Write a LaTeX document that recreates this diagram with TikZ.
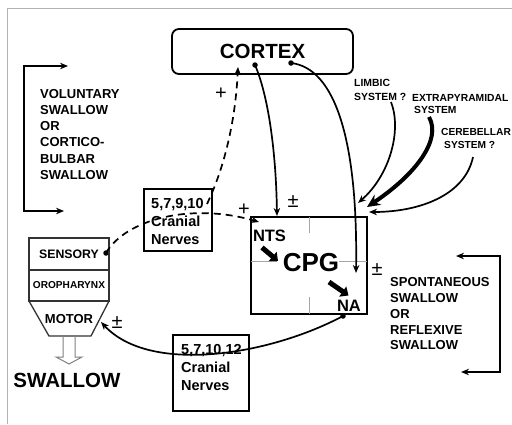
\documentclass[tikz,border=0pt]{standalone}
\usepackage{fontspec}
\setmainfont{Liberation Sans}
\usetikzlibrary{arrows.meta}
\tikzset{
  boxed/.style={draw, line width=1.8pt},
  stackbox/.style={draw=black!80, line width=1.3pt},
  conn/.style={line width=1.7pt, -{Stealth[length=8pt,width=6.5pt]}},
  dashline/.style={line width=1.7pt, dash pattern=on 7pt off 5pt, -{Stealth[length=8pt,width=6.5pt]}},
  bigarrow/.style={line width=5pt, -{Triangle[length=7pt,width=12pt]}},
  dotc/.style={circle, fill, minimum size=5.5pt, inner sep=0pt},
  pmsign/.style={font=\fontsize{20}{20}\selectfont},
  grayline/.style={gray!70, line width=1pt},
  bracket/.style={line width=1.7pt, {Stealth[length=8pt,width=6.5pt]}-{Stealth[length=8pt,width=6.5pt]}},
}
\begin{document}
\begin{tikzpicture}[x=1pt,y=-1pt, every node/.style={inner sep=0pt}]
\useasboundingbox (0,0) rectangle (512,424);
% frame
\draw[gray!60, line width=1pt] (512,8) -- (7,8) -- (7,424);

% CORTEX
\node[boxed, rounded corners=7pt, minimum width=181pt, minimum height=45pt,
      font=\bfseries\fontsize{20.5}{24}\selectfont] (cortex) at (262.5,51.5) {CORTEX};

% CPG box
\node[boxed, minimum width=116pt, minimum height=97pt] (cpg) at (309,265.5) {};
\draw[grayline] (309,217) -- (309,233);
\draw[grayline] (309,297) -- (309,314);
\draw[grayline] (251,261) -- (277,261);
\draw[grayline] (339,261) -- (367,261);
\node[font=\bfseries\fontsize{26}{30}\selectfont] (cpgt) at (311,263) {CPG};
\node[font=\bfseries\fontsize{16.5}{20}\selectfont] (nts) at (269.5,236) {NTS};
\node[font=\bfseries\fontsize{16.5}{20}\selectfont] (na) at (349,305.5) {NA};
\coordinate (b1s) at (262,247.5);
\coordinate (b1e) at (278,261);
\coordinate (b2s) at (329,282);
\coordinate (b2e) at (348.5,295.5);
\draw[bigarrow] (b1s) -- (b1e);
\draw[bigarrow] (b2s) -- (b2e);

% dots
\node[dotc] (cdot1) at (255,65) {};
\node[dotc] (cdot2) at (291,63) {};
\node[dotc] (sdot) at (106,253) {};
\node[dotc] (nadot) at (343,316) {};

% cortex to CPG
\coordinate (ntsin) at (277,216);
\coordinate (nain) at (356,273);
\draw[conn] (cdot1.center) .. controls (268,95) and (276,150) .. (ntsin);
\draw[conn] (cdot2.center) .. controls (335,68) and (358,140) .. (nain);

% other systems
\node[anchor=north west, align=left, font=\bfseries\fontsize{10.4}{14}\selectfont] (limbic) at (354,79.5) {LIMBIC\\SYSTEM ?};
\node[anchor=north west, align=left, font=\bfseries\fontsize{10.3}{12.5}\selectfont] (extra) at (412,94) {EXTRAPYRAMIDAL\\\hspace*{2pt}SYSTEM};
\node[anchor=north west, align=left, font=\bfseries\fontsize{10.2}{13}\selectfont] (cereb) at (441,128) {CEREBELLAR\\\hspace*{3pt}SYSTEM ?};
\coordinate (ls) at (391,102);
\coordinate (le) at (358,203);
\coordinate (es) at (429,117);
\coordinate (ee) at (367,207);
\coordinate (cs) at (473,157);
\coordinate (ce) at (369,212);
\draw[conn] (ls) .. controls (402,130) and (390,175) .. (le);
\draw[line width=4pt, -{Stealth[length=13pt,width=12pt]}] (es) .. controls (442,140) and (415,175) .. (ee);
\draw[conn] (cs) .. controls (465,195) and (420,212) .. (ce);

% left stack
\node[stackbox, minimum width=80pt, minimum height=32pt, font=\bfseries\fontsize{12.3}{14}\selectfont] (sens) at (69,254) {SENSORY};
\node[stackbox, minimum width=80pt, minimum height=31pt, font=\bfseries\fontsize{10.1}{12}\selectfont] (oro) at (69,285.5) {OROPHARYNX};
\draw[stackbox] (29,301) -- (109,301) -- (91,336) -- (49,336) -- cycle;
\node[font=\bfseries\fontsize{13}{15}\selectfont] (motor) at (69,319) {MOTOR};
\draw[gray, line width=1pt] (63,336) -- (63,357) -- (56,357) -- (69,364) -- (82,357) -- (75,357) -- (75,336);
\node[font=\bfseries\fontsize{20.5}{24}\selectfont] (swallow) at (67,380) {SWALLOW};

% cranial nerve boxes
\node[boxed, minimum width=68pt, minimum height=62pt] (cn1) at (178,220) {};
\node[anchor=north west, align=left, font=\bfseries\fontsize{14.5}{18}\selectfont] (cn1t) at (151,198) {5,7,9,10\\Cranial\\Nerves};
\node[boxed, minimum width=76pt, minimum height=76pt] (cn2) at (211,373) {};
\node[anchor=north west, align=left, font=\bfseries\fontsize{14.5}{18}\selectfont] (cn2t) at (181,344.5) {5,7,10,12\\Cranial\\Nerves};

% dashed sensory path
\coordinate (cpgin) at (259,222);
\coordinate (brs) at (207,204);
\coordinate (cortexin) at (238,67);
\draw[dashline] (sdot.center) .. controls (125,220) and (190,202) .. (cpgin);
\draw[dashline] (brs) .. controls (228,160) and (236,110) .. (cortexin);

% motor path
\coordinate (motorin) at (101,322);
\draw[conn] (nadot.center) .. controls (270,355) and (150,375) .. (motorin);

% signs
\node[pmsign] (p1) at (221,94) {+};
\node[pmsign] (p2) at (244,210) {+};
\node[pmsign] (pm1) at (293,202) {±};
\node[pmsign] (pm2) at (377,270) {±};
\node[pmsign] (pm3) at (117,323) {±};

% brackets
\coordinate (lt) at (68,66);
\coordinate (lb) at (64,211);
\draw[bracket] (lt) -- (24,66) -- (24,211) -- (lb);
\node[anchor=north west, align=left, font=\bfseries\fontsize{13}{16.2}\selectfont] (vol) at (40,89) {VOLUNTARY\\SWALLOW\\OR\\CORTICO-\\BULBAR\\SWALLOW};
\coordinate (rt) at (456,256);
\coordinate (rb) at (461,372);
\draw[bracket] (rt) -- (500,256) -- (500,372) -- (rb);
\node[anchor=north west, align=left, font=\bfseries\fontsize{13}{15.8}\selectfont] (spont) at (390,277.5) {SPONTANEOUS\\SWALLOW\\OR\\REFLEXIVE\\SWALLOW};
\end{tikzpicture}
\end{document}
